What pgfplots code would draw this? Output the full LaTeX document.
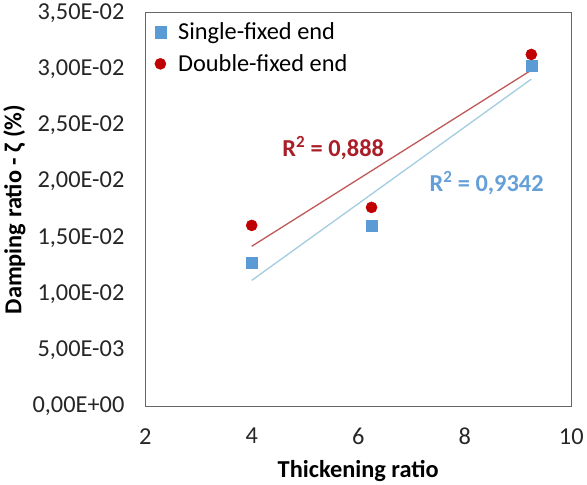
\documentclass[border=0pt]{standalone}
\usepackage{pgfplots}
\usepackage{pgfplotstable}
\pgfplotsset{compat=1.18}
\usepackage{fontspec}
\setmainfont{Carlito}
\definecolor{sblue}{RGB}{91,155,213}
\definecolor{dred}{RGB}{192,0,0}
\definecolor{redline}{RGB}{192,90,90}
\definecolor{blueline}{RGB}{165,205,225}
\definecolor{redtxt}{RGB}{170,30,40}
\definecolor{bluetxt}{RGB}{100,160,215}
\pgfplotstableread{
x y
4 0.0128
6.25 0.0161
9.25 0.0303
}\single
\pgfplotstableread{
x y
4 0.0161
6.25 0.0177
9.25 0.0313
}\double
\begin{document}
\begin{tikzpicture}
\begin{axis}[
  scale only axis,
  width=420pt, height=388pt,
  xmin=2, xmax=10, ymin=0, ymax=0.035,
  xtick={2,4,6,8,10},
  xticklabels={2,4,6,8,10},
  ytick={0,0.005,0.01,0.015,0.02,0.025,0.03,0.035},
  yticklabels={{0,00E+00},{5,00E-03},{1,00E-02},{1,50E-02},{2,00E-02},{2,50E-02},{3,00E-02},{3,50E-02}},
  scaled y ticks=false,
  major tick length=0pt,
  axis line style={draw=black!60, line width=1pt},
  tick label style={font=\fontsize{24}{28}\selectfont, text=black!85},
  yticklabel style={xshift=-17pt},
  xticklabel style={yshift=-18pt},
  xlabel={\textbf{Thickening ratio}},
  ylabel={\textbf{Damping ratio - ζ (\%)}},
  label style={font=\fontsize{24}{28}\selectfont},
  xlabel style={yshift=-8pt},
  ylabel style={yshift=0pt},
  legend style={draw=none, fill=none, at={(0.015,0.985)}, anchor=north west,
    font=\fontsize{24}{28}\selectfont, row sep=9pt},
  legend cell align=left,
]
\addplot[only marks, mark=square*, mark size=5.5pt, color=sblue] table[x=x,y=y] {\single};
\addlegendentry{\hspace{10pt}Single-fixed end}
\addplot[only marks, mark=*, mark size=5.5pt, color=dred] table[x=x,y=y] {\double};
\addlegendentry{\hspace{10pt}Double-fixed end}
\addplot[blueline, line width=1.3pt, no marks, forget plot] table[x=x, y={create col/linear regression={y=y}}] {\single};
\addplot[redline, line width=1.3pt, no marks, forget plot] table[x=x, y={create col/linear regression={y=y}}] {\double};
\node[font=\bfseries\fontsize{24}{28}\selectfont, text=redtxt] at (axis cs:5.53,0.0230) {R\textsuperscript{2} = 0,888};
\node[font=\bfseries\fontsize{24}{28}\selectfont, text=bluetxt] at (axis cs:8.41,0.0199) {R\textsuperscript{2} = 0,9342};
\end{axis}
\end{tikzpicture}
\end{document}
